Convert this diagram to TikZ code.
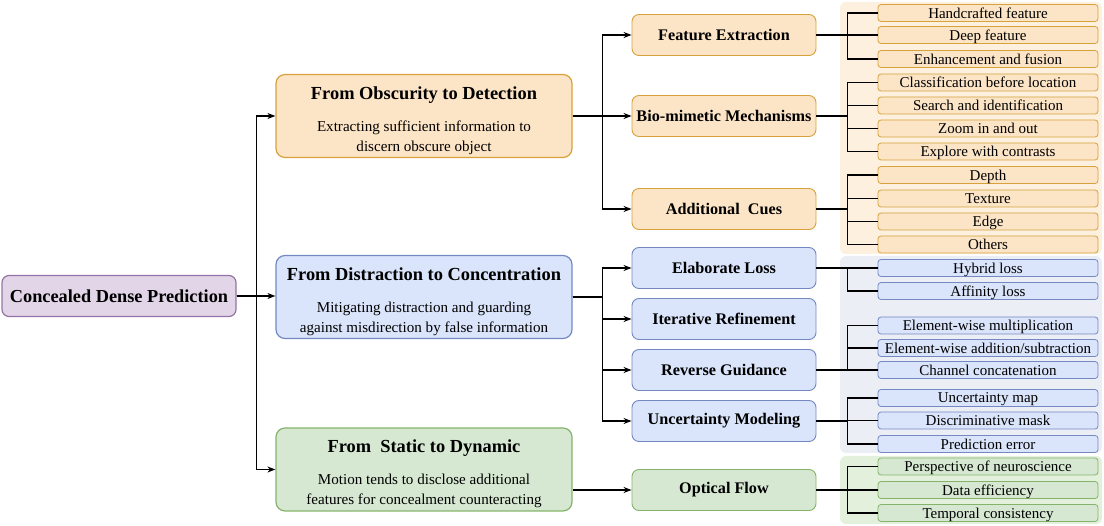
\documentclass[tikz,border=0pt]{standalone}
\usepackage{fontspec}
\setmainfont{Liberation Serif}
\usetikzlibrary{arrows.meta,positioning}

\definecolor{rootfill}{HTML}{E1D5E7}
\definecolor{rootline}{HTML}{9673A6}
\definecolor{obsfill}{HTML}{FCE4C6}
\definecolor{obsline}{HTML}{D6A23C}
\definecolor{disfill}{HTML}{DAE4FA}
\definecolor{disline}{HTML}{7489C2}
\definecolor{stafill}{HTML}{D6E8D2}
\definecolor{staline}{HTML}{86B36C}
\definecolor{obspanel}{HTML}{FDF0DF}
\definecolor{dispanel}{HTML}{ECEEF6}
\definecolor{stapanel}{HTML}{E3F1DC}

\tikzset{
  box/.style={draw, rounded corners=7pt, line width=1.2pt, align=center, inner sep=2pt},
  rootbox/.style={box, fill=rootfill, draw=rootline, minimum width=234, minimum height=41,
    font=\bfseries\fontsize{18.3}{20}\selectfont},
  mainbox/.style={box, rounded corners=9pt, minimum width=296, minimum height=83,
    font=\fontsize{15.1}{20}\selectfont},
  catbox/.style={box, line width=0.9pt, minimum width=184, minimum height=41,
    font=\bfseries\fontsize{16.2}{18}\selectfont},
  leafbox/.style={draw, rounded corners=3pt, line width=0.8pt, inner sep=0pt, text depth=0pt,
    minimum width=220, minimum height=17, font=\fontsize{15}{16}\selectfont},
  arr/.style={-{Stealth[length=8pt,width=6pt]}, line width=1.2pt},
  tree/.style={line width=1.4pt}
}

\newcommand{\ttl}{\bfseries\fontsize{18.4}{20}\selectfont\rule{0pt}{22pt}}

\begin{document}
\begin{tikzpicture}[x=1pt,y=-1pt]

    \useasboundingbox (0,0) rectangle (1104,526);

    % background panels behind the leaves
    \fill[obspanel, rounded corners=6pt] (840,2) rectangle (1102,254);
    \fill[dispanel, rounded corners=6pt] (840,256) rectangle (1102,453);
    \fill[stapanel, rounded corners=6pt] (840,456) rectangle (1102,524);

    % root
    \node[rootbox] (root) at (119,296) {Concealed Dense Prediction};

    % three main directions
    \node[mainbox, fill=obsfill, draw=obsline] (obs) at (424,116)
        {{\ttl From Obscurity to Detection}\\[12pt]Extracting sufficient information to\\discern obscure object};
    \node[mainbox, fill=disfill, draw=disline] (dis) at (424,297)
        {{\ttl From Distraction to Concentration}\\[12pt]Mitigating distraction and guarding\\against misdirection by false information};
    \node[mainbox, fill=stafill, draw=staline] (sta) at (424,469.5)
        {{\ttl From\ \ Static to Dynamic}\\[12pt]Motion tends to disclose additional\\features for concealment counteracting};

    % categories
    \node[catbox, fill=obsfill, draw=obsline] (fe) at (724,35) {Feature Extraction};
    \node[catbox, fill=obsfill, draw=obsline] (bio) at (724,116) {Bio-mimetic Mechanisms};
    \node[catbox, fill=obsfill, draw=obsline] (cue) at (724,209) {Additional\ \ Cues};

    \node[catbox, fill=disfill, draw=disline] (el) at (724,268) {Elaborate Loss};
    \node[catbox, fill=disfill, draw=disline] (ir) at (724,319) {Iterative Refinement};
    \node[catbox, fill=disfill, draw=disline] (rg) at (724,370) {Reverse Guidance};
    \node[catbox, fill=disfill, draw=disline] (um) at (724,421) {Uncertainty Modeling};

    \node[catbox, fill=stafill, draw=staline] (of) at (724,490) {Optical Flow};

    % leaves
    \node[leafbox, fill=obsfill, draw=obsline] (fe1) at (988,13) {Handcrafted feature};
    \node[leafbox, fill=obsfill, draw=obsline] (fe2) at (988,35) {Deep feature};
    \node[leafbox, fill=obsfill, draw=obsline] (fe3) at (988,59) {Enhancement and fusion};

    \node[leafbox, fill=obsfill, draw=obsline] (bio1) at (988,82.5) {Classification before location};
    \node[leafbox, fill=obsfill, draw=obsline] (bio2) at (988,105.5) {Search and identification};
    \node[leafbox, fill=obsfill, draw=obsline] (bio3) at (988,128.5) {Zoom in and out};
    \node[leafbox, fill=obsfill, draw=obsline] (bio4) at (988,151.5) {Explore with contrasts};

    \node[leafbox, fill=obsfill, draw=obsline] (cue1) at (988,175) {Depth};
    \node[leafbox, fill=obsfill, draw=obsline] (cue2) at (988,198.5) {Texture};
    \node[leafbox, fill=obsfill, draw=obsline] (cue3) at (988,221.5) {Edge};
    \node[leafbox, fill=obsfill, draw=obsline] (cue4) at (988,244.5) {Others};

    \node[leafbox, fill=disfill, draw=disline] (el1) at (988,268) {Hybrid loss};
    \node[leafbox, fill=disfill, draw=disline] (el2) at (988,291) {Affinity loss};

    \node[leafbox, fill=disfill, draw=disline] (rg1) at (988,325.5) {Element-wise multiplication};
    \node[leafbox, fill=disfill, draw=disline] (rg2) at (988,348) {Element-wise addition/subtraction};
    \node[leafbox, fill=disfill, draw=disline] (rg3) at (988,370) {Channel concatenation};

    \node[leafbox, fill=disfill, draw=disline] (um1) at (988,398) {Uncertainty map};
    \node[leafbox, fill=disfill, draw=disline] (um2) at (988,420.5) {Discriminative mask};
    \node[leafbox, fill=disfill, draw=disline] (um3) at (988,444) {Prediction error};

    \node[leafbox, fill=stafill, draw=staline] (of1) at (988,466.5) {Perspective of neuroscience};
    \node[leafbox, fill=stafill, draw=staline] (of2) at (988,490) {Data efficiency};
    \node[leafbox, fill=stafill, draw=staline] (of3) at (988,513) {Temporal consistency};

    % root to main directions
    \draw[arr] (root.east) -- ++(20,0) |- (obs.west);
    \draw[arr] (root.east) -- (root.east -| dis.west);
    \draw[arr] (root.east) -- ++(20,0) |- (sta.west);

    % main directions to categories
    \draw[arr] (obs.east) -- ++(30,0) |- (fe.west);
    \draw[arr] (obs.east) -- (bio.west);
    \draw[arr] (obs.east) -- ++(30,0) |- (cue.west);

    \draw[arr] (dis.east) -- ++(30,0) |- (el.west);
    \draw[arr] (dis.east) -- ++(30,0) |- (ir.west);
    \draw[arr] (dis.east) -- ++(30,0) |- (rg.west);
    \draw[arr] (dis.east) -- ++(30,0) |- (um.west);

    \draw[arr] (sta.east |- of.west) -- (of.west);

    % categories to leaves
    \draw[tree] (fe.east) -- ++(31,0) |- (fe1.west);
    \draw[tree] (fe.east) -- (fe2.west);
    \draw[tree] (fe.east) -- ++(31,0) |- (fe3.west);

    \draw[tree] (bio.east) -- ++(31,0) |- (bio1.west);
    \draw[tree] (bio.east) -- ++(31,0) |- (bio2.west);
    \draw[tree] (bio.east) -- ++(31,0) |- (bio3.west);
    \draw[tree] (bio.east) -- ++(31,0) |- (bio4.west);

    \draw[tree] (cue.east) -- ++(31,0) |- (cue1.west);
    \draw[tree] (cue.east) -- ++(31,0) |- (cue2.west);
    \draw[tree] (cue.east) -- ++(31,0) |- (cue3.west);
    \draw[tree] (cue.east) -- ++(31,0) |- (cue4.west);

    \draw[tree] (el.east) -- (el1.west);
    \draw[tree] (el.east) -- ++(31,0) |- (el2.west);

    \draw[tree] (rg.east) -- ++(31,0) |- (rg1.west);
    \draw[tree] (rg.east) -- ++(31,0) |- (rg2.west);
    \draw[tree] (rg.east) -- (rg3.west);

    \draw[tree] (um.east) -- ++(31,0) |- (um1.west);
    \draw[tree] (um.east) -- ++(31,0) |- (um2.west);
    \draw[tree] (um.east) -- ++(31,0) |- (um3.west);

    \draw[tree] (of.east) -- ++(31,0) |- (of1.west);
    \draw[tree] (of.east) -- (of2.west);
    \draw[tree] (of.east) -- ++(31,0) |- (of3.west);

\end{tikzpicture}
\end{document}
